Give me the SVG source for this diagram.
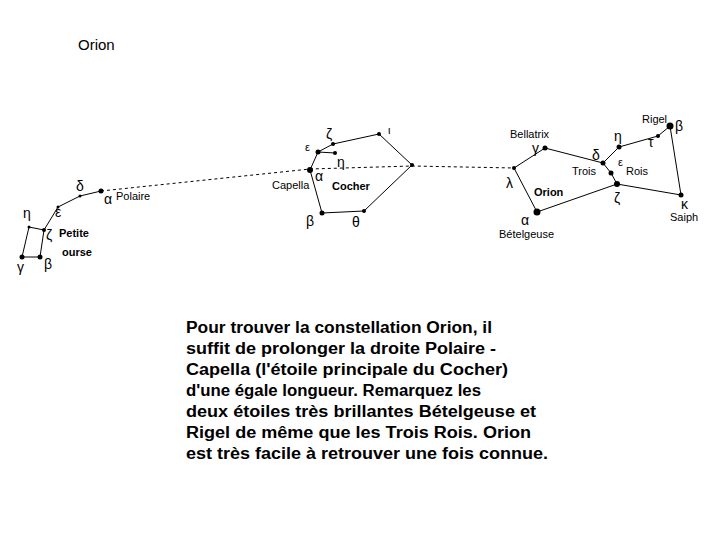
<svg xmlns="http://www.w3.org/2000/svg" width="720" height="540" viewBox="0 0 720 540">
<style>
.l{stroke:#000;stroke-width:1;fill:none}
.d{stroke:#000;stroke-width:1;fill:none;stroke-dasharray:3 3}
circle{fill:#000}
text{font-family:"Liberation Sans",Arial,sans-serif;fill:#000}
.s{font-size:11px}
.g{font-size:14px}
.b{font-size:11px;font-weight:bold}
.p{font-size:16px;font-weight:bold}
</style>
<rect width="720" height="540" fill="#fff"/>
<text x="78" y="50" style="font-size:15px">Orion</text>
<g id="connectors">
<polyline class="d" points="101,191 310,169 412,166 514,168"/>
<polyline class="l" points="101,191 80,196 58,207 44,230 40,257 22,257 29,227 44,230"/>
<polyline class="l" points="310,170 318,152 333,144 379,134 412,165 364,211 322,213 310,170"/>
<polyline class="l" points="318,152 335,153"/>
<polyline class="l" points="514,168 545,148 603,163 619,147 658,136 670,126 681,195 617,184 537,212 514,168"/>
<polyline class="l" points="603,163 611,173 617,184"/>
</g>
<g id="petite-ourse">
<circle cx="101" cy="191" r="2.5"/><circle cx="80" cy="196" r="1.5"/><circle cx="58" cy="207" r="1.5"/>
<circle cx="44" cy="230" r="2"/><circle cx="29" cy="227" r="1.5"/><circle cx="22" cy="257" r="2.5"/><circle cx="40" cy="257" r="2.5"/>
<text class="g" x="76" y="191">δ</text><text class="g" x="104" y="204">α</text><text class="s" x="116" y="200">Polaire</text>
<text class="g" x="55" y="217">ε</text><text class="g" x="23" y="218">η</text><text class="g" x="46" y="240">ζ</text>
<text class="b" x="59" y="237">Petite</text><text class="b" x="62" y="256">ourse</text>
<text class="g" x="17" y="272">γ</text><text class="g" x="44" y="269">β</text>
</g>
<g id="cocher">
<circle cx="310" cy="170" r="3"/><circle cx="318" cy="152" r="2.5"/><circle cx="333" cy="144" r="2"/><circle cx="335" cy="153" r="2"/>
<circle cx="379" cy="134" r="2"/><circle cx="412" cy="165" r="2"/><circle cx="364" cy="211" r="2"/><circle cx="322" cy="213" r="2.5"/>
<text class="g" x="326" y="139">ζ</text><text class="s" x="305" y="151">ε</text><text class="g" x="337" y="167">η</text>
<text class="s" x="388" y="134">ι</text><text class="g" x="315" y="181">α</text><text class="s" x="272" y="189">Capella</text>
<text class="b" x="332" y="190">Cocher</text><text class="g" x="306" y="226">β</text><text class="g" x="352" y="227">θ</text>
</g>
<g id="orion">
<circle cx="514" cy="168" r="2"/><circle cx="545" cy="148" r="2.5"/><circle cx="603" cy="163" r="2.5"/><circle cx="611" cy="173" r="2.5"/>
<circle cx="617" cy="184" r="3"/><circle cx="619" cy="147" r="2.5"/><circle cx="658" cy="136" r="2"/><circle cx="670" cy="126" r="3.5"/>
<circle cx="681" cy="195" r="2.5"/><circle cx="537" cy="212" r="3.5"/>
<text class="s" x="510" y="138">Bellatrix</text><text class="g" x="532" y="153">γ</text><text class="g" x="614" y="141">η</text>
<text class="s" x="642" y="123">Rigel</text><text class="g" x="675" y="131">β</text><text class="g" x="648" y="147">τ</text>
<text class="g" x="592" y="160">δ</text><text class="s" x="618" y="166">ε</text><text class="s" x="572" y="175">Trois</text>
<text class="s" x="626" y="175">Rois</text><text class="g" x="506" y="188">λ</text><text class="b" x="534" y="196">Orion</text>
<text class="g" x="614" y="203">ζ</text><text class="g" x="681" y="209">κ</text><text class="s" x="670" y="221">Saiph</text>
<text class="g" x="521" y="225">α</text><text class="s" x="499" y="238">Bételgeuse</text>
</g>
<g id="paragraph">
<text class="p" x="186" y="333" textLength="306" lengthAdjust="spacingAndGlyphs">Pour trouver la constellation Orion, il</text>
<text class="p" x="186" y="354" textLength="310" lengthAdjust="spacingAndGlyphs">suffit de prolonger la droite Polaire -</text>
<text class="p" x="186" y="375" textLength="322" lengthAdjust="spacingAndGlyphs">Capella (l'étoile principale du Cocher)</text>
<text class="p" x="186" y="396" textLength="295" lengthAdjust="spacingAndGlyphs">d'une égale longueur. Remarquez les</text>
<text class="p" x="186" y="417" textLength="350" lengthAdjust="spacingAndGlyphs">deux étoiles très brillantes Bételgeuse et</text>
<text class="p" x="186" y="438" textLength="345" lengthAdjust="spacingAndGlyphs">Rigel de même que les Trois Rois. Orion</text>
<text class="p" x="186" y="459" textLength="362" lengthAdjust="spacingAndGlyphs">est très facile à retrouver une fois connue.</text>
</g>
</svg>
